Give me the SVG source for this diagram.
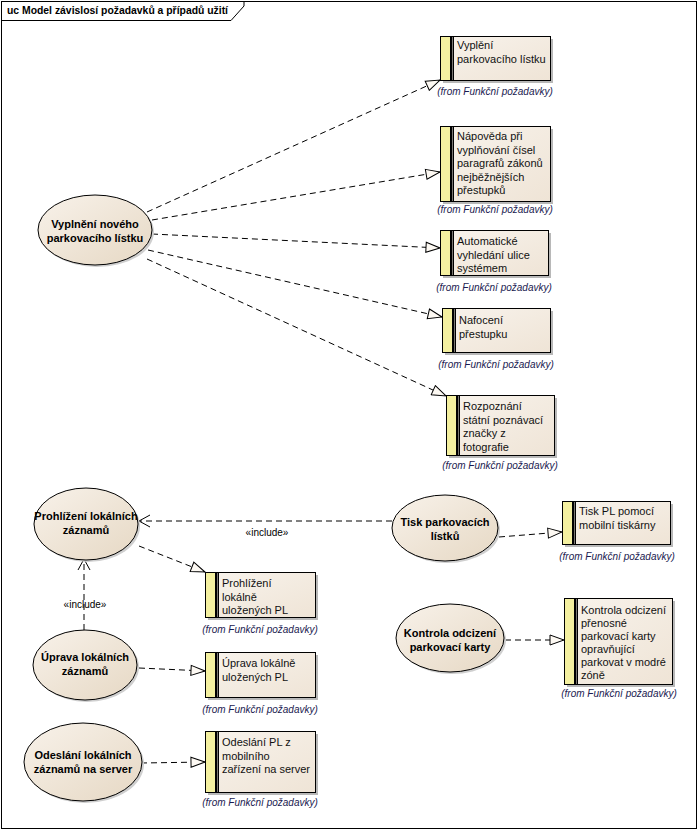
<svg xmlns="http://www.w3.org/2000/svg" width="699" height="831" viewBox="0 0 699 831">
<defs>
<linearGradient id="ug" x1="0" y1="0" x2="1" y2="1">
<stop offset="0" stop-color="#f8f2ea"/>
<stop offset="1" stop-color="#e6d8c4"/>
</linearGradient>
<linearGradient id="rg" x1="0" y1="0" x2="1" y2="1">
<stop offset="0" stop-color="#f8f3ec"/>
<stop offset="1" stop-color="#efe4d6"/>
</linearGradient>
<marker id="tri" markerWidth="16" markerHeight="12" refX="15" refY="6" orient="auto" markerUnits="userSpaceOnUse">
<path d="M1,1 L15,6 L1,11 Z" fill="#fdf9f3" stroke="#000" stroke-width="1"/>
</marker>
<marker id="open" markerWidth="14" markerHeight="14" refX="12" refY="7" orient="auto" markerUnits="userSpaceOnUse">
<path d="M1,1 L12,7 L1,13" fill="none" stroke="#000" stroke-width="1"/>
</marker>
</defs>
<style>
.uc{fill:url(#ug);stroke:#000;stroke-width:1}
.ucs{fill:#cfcfcf}
.rq{fill:url(#rg);stroke:#000;stroke-width:1}
.rs{fill:#b8b8b8}
.st{fill:#f4f0a0;stroke:#000;stroke-width:1}
.ut{font-family:"Liberation Sans",Arial,sans-serif;font-size:11px;font-weight:bold;fill:#000;text-anchor:middle}
.rt{font-family:"Liberation Sans",Arial,sans-serif;font-size:11px;fill:#111}
.ft{font-family:"Liberation Sans",Arial,sans-serif;font-size:10px;font-style:italic;fill:#1a1a50;text-anchor:middle}
.lt{font-family:"Liberation Sans",Arial,sans-serif;font-size:10px;fill:#000;text-anchor:middle}
.c{fill:none;stroke:#000;stroke-width:1;stroke-dasharray:6,4}
.tr{marker-end:url(#tri)}
.op{marker-end:url(#open)}
</style>
<rect x="0" y="0" width="699" height="831" fill="#fff"/>
<g id="frame">
<rect x="1.5" y="1.5" width="695" height="827" fill="none" stroke="#000"/>
<path d="M1.5,20.5 H231 L244,6 V1.5" fill="none" stroke="#000"/>
<text x="7" y="14" font-family="Liberation Sans,Arial,sans-serif" font-size="11" font-weight="bold" textLength="221" lengthAdjust="spacingAndGlyphs">uc Model závislosí požadavků a případů užití</text>
</g>
<g id="connectors">
<line class="c tr" x1="147" y1="212" x2="440" y2="80"/>
<line class="c tr" x1="152" y1="220" x2="440" y2="172"/>
<line class="c tr" x1="152" y1="234" x2="440" y2="248"/>
<line class="c tr" x1="148" y1="250" x2="442" y2="317"/>
<line class="c tr" x1="147" y1="259" x2="446" y2="396"/>
<line class="c tr" x1="499" y1="537" x2="562" y2="532"/>
<line class="c tr" x1="139" y1="546" x2="205" y2="572"/>
<line class="c tr" x1="139" y1="668" x2="205" y2="671"/>
<line class="c tr" x1="141" y1="763" x2="205" y2="762"/>
<line class="c tr" x1="505" y1="640" x2="564" y2="640"/>
<line class="c op" x1="392" y1="521" x2="139" y2="521"/>
<text class="lt" x="267" y="536">«include»</text>
<line class="c op" x1="84" y1="630" x2="84" y2="559"/>
<text class="lt" x="85" y="608">«include»</text>
</g>
<g id="uc-vyplneni">
<ellipse class="ucs" cx="97" cy="232" rx="57" ry="35"/>
<ellipse class="uc" cx="95" cy="230" rx="57" ry="35"/>
<text class="ut" x="95" y="228">Vyplnění nového</text>
<text class="ut" x="95" y="242">parkovacího lístku</text>
</g>
<g id="uc-prohlizeni">
<ellipse class="ucs" cx="88" cy="526" rx="52" ry="36"/>
<ellipse class="uc" cx="86" cy="524" rx="52" ry="36"/>
<text class="ut" x="86" y="520">Prohlížení lokálních</text>
<text class="ut" x="86" y="534">záznamů</text>
</g>
<g id="uc-uprava">
<ellipse class="ucs" cx="87" cy="667" rx="52" ry="35"/>
<ellipse class="uc" cx="85" cy="665" rx="52" ry="35"/>
<text class="ut" x="85" y="661">Úprava lokálních</text>
<text class="ut" x="85" y="675">záznamů</text>
</g>
<g id="uc-odeslani">
<ellipse class="ucs" cx="85" cy="764" rx="59" ry="39"/>
<ellipse class="uc" cx="83" cy="762" rx="59" ry="39"/>
<text class="ut" x="83" y="759">Odeslání lokálních</text>
<text class="ut" x="83" y="773">záznamů na server</text>
</g>
<g id="uc-tisk">
<ellipse class="ucs" cx="447" cy="530" rx="53" ry="33"/>
<ellipse class="uc" cx="445" cy="528" rx="53" ry="33"/>
<text class="ut" x="445" y="526">Tisk parkovacích</text>
<text class="ut" x="445" y="540">lístků</text>
</g>
<g id="uc-kontrola">
<ellipse class="ucs" cx="452" cy="640" rx="54" ry="34"/>
<ellipse class="uc" cx="450" cy="638" rx="54" ry="34"/>
<text class="ut" x="450" y="637">Kontrola odcizení</text>
<text class="ut" x="450" y="651">parkovací karty</text>
</g>
<g id="rq-vyplneni">
<rect class="rs" x="443" y="39" width="110" height="44"/>
<rect class="rq" x="440.5" y="36.5" width="110" height="44"/>
<rect class="st" x="440.5" y="36.5" width="10" height="44"/>
<line x1="451.5" y1="36.5" x2="451.5" y2="80.5" stroke="#000" stroke-width="2"/>
<line x1="453.5" y1="36.5" x2="453.5" y2="80.5" stroke="#000"/>
<text class="rt" x="457" y="49">Vyplění</text>
<text class="rt" x="457" y="63">parkovacího lístku</text>
<text class="ft" x="495" y="95">(from Funkční požadavky)</text>
</g>
<g id="rq-napoveda">
<rect class="rs" x="443" y="129" width="110" height="75"/>
<rect class="rq" x="440.5" y="126.5" width="110" height="75"/>
<rect class="st" x="440.5" y="126.5" width="10" height="75"/>
<line x1="451.5" y1="126.5" x2="451.5" y2="201.5" stroke="#000" stroke-width="2"/>
<line x1="453.5" y1="126.5" x2="453.5" y2="201.5" stroke="#000"/>
<text class="rt" x="457" y="140">Nápověda při</text>
<text class="rt" x="457" y="153.5">vyplňování čísel</text>
<text class="rt" x="457" y="167">paragrafů zákonů</text>
<text class="rt" x="457" y="180.5">nejběžnějších</text>
<text class="rt" x="457" y="194">přestupků</text>
<text class="ft" x="495" y="213">(from Funkční požadavky)</text>
</g>
<g id="rq-automaticke">
<rect class="rs" x="443" y="233" width="108" height="45"/>
<rect class="rq" x="440.5" y="230.5" width="108" height="45"/>
<rect class="st" x="440.5" y="230.5" width="10" height="45"/>
<line x1="451.5" y1="230.5" x2="451.5" y2="275.5" stroke="#000" stroke-width="2"/>
<line x1="453.5" y1="230.5" x2="453.5" y2="275.5" stroke="#000"/>
<text class="rt" x="457" y="245">Automatické</text>
<text class="rt" x="457" y="258.5">vyhledání ulice</text>
<text class="rt" x="457" y="272">systémem</text>
<text class="ft" x="494" y="291">(from Funkční požadavky)</text>
</g>
<g id="rq-nafoceni">
<rect class="rs" x="445" y="311" width="108" height="44"/>
<rect class="rq" x="442.5" y="308.5" width="108" height="44"/>
<rect class="st" x="442.5" y="308.5" width="10" height="44"/>
<line x1="453.5" y1="308.5" x2="453.5" y2="352.5" stroke="#000" stroke-width="2"/>
<line x1="455.5" y1="308.5" x2="455.5" y2="352.5" stroke="#000"/>
<text class="rt" x="459" y="324">Nafocení</text>
<text class="rt" x="459" y="337.5">přestupku</text>
<text class="ft" x="496" y="368">(from Funkční požadavky)</text>
</g>
<g id="rq-rozpoznani">
<rect class="rs" x="449" y="398" width="108" height="60"/>
<rect class="rq" x="446.5" y="395.5" width="108" height="60"/>
<rect class="st" x="446.5" y="395.5" width="10" height="60"/>
<line x1="457.5" y1="395.5" x2="457.5" y2="455.5" stroke="#000" stroke-width="2"/>
<line x1="459.5" y1="395.5" x2="459.5" y2="455.5" stroke="#000"/>
<text class="rt" x="463" y="410">Rozpoznání</text>
<text class="rt" x="463" y="423.5">státní poznávací</text>
<text class="rt" x="463" y="437">značky z</text>
<text class="rt" x="463" y="450.5">fotografie</text>
<text class="ft" x="500" y="469">(from Funkční požadavky)</text>
</g>
<g id="rq-tisk">
<rect class="rs" x="565" y="504" width="108" height="43"/>
<rect class="rq" x="562.5" y="501.5" width="108" height="43"/>
<rect class="st" x="562.5" y="501.5" width="10" height="43"/>
<line x1="573.5" y1="501.5" x2="573.5" y2="544.5" stroke="#000" stroke-width="2"/>
<line x1="575.5" y1="501.5" x2="575.5" y2="544.5" stroke="#000"/>
<text class="rt" x="579" y="515">Tisk PL pomocí</text>
<text class="rt" x="579" y="528.5">mobilní tiskárny</text>
<text class="ft" x="617" y="560">(from Funkční požadavky)</text>
</g>
<g id="rq-prohlizeni">
<rect class="rs" x="208" y="575" width="110" height="45"/>
<rect class="rq" x="205.5" y="572.5" width="110" height="45"/>
<rect class="st" x="205.5" y="572.5" width="10" height="45"/>
<line x1="216.5" y1="572.5" x2="216.5" y2="617.5" stroke="#000" stroke-width="2"/>
<line x1="218.5" y1="572.5" x2="218.5" y2="617.5" stroke="#000"/>
<text class="rt" x="222" y="587">Prohlížení</text>
<text class="rt" x="222" y="600.5">lokálně</text>
<text class="rt" x="222" y="614">uložených PL</text>
<text class="ft" x="260" y="633">(from Funkční požadavky)</text>
</g>
<g id="rq-kontrola">
<rect class="rs" x="567" y="601" width="108" height="86"/>
<rect class="rq" x="564.5" y="598.5" width="108" height="86"/>
<rect class="st" x="564.5" y="598.5" width="10" height="86"/>
<line x1="575.5" y1="598.5" x2="575.5" y2="684.5" stroke="#000" stroke-width="2"/>
<line x1="577.5" y1="598.5" x2="577.5" y2="684.5" stroke="#000"/>
<text class="rt" x="581" y="614">Kontrola odcizení</text>
<text class="rt" x="581" y="627">přenosné</text>
<text class="rt" x="581" y="640">parkovací karty</text>
<text class="rt" x="581" y="653">opravňující</text>
<text class="rt" x="581" y="666">parkovat v modré</text>
<text class="rt" x="581" y="679">zóně</text>
<text class="ft" x="619" y="697">(from Funkční požadavky)</text>
</g>
<g id="rq-uprava">
<rect class="rs" x="208" y="655" width="110" height="45"/>
<rect class="rq" x="205.5" y="652.5" width="110" height="45"/>
<rect class="st" x="205.5" y="652.5" width="10" height="45"/>
<line x1="216.5" y1="652.5" x2="216.5" y2="697.5" stroke="#000" stroke-width="2"/>
<line x1="218.5" y1="652.5" x2="218.5" y2="697.5" stroke="#000"/>
<text class="rt" x="222" y="667">Úprava lokálně</text>
<text class="rt" x="222" y="680.5">uložených PL</text>
<text class="ft" x="260" y="713">(from Funkční požadavky)</text>
</g>
<g id="rq-odeslani">
<rect class="rs" x="208" y="734" width="110" height="61"/>
<rect class="rq" x="205.5" y="731.5" width="110" height="61"/>
<rect class="st" x="205.5" y="731.5" width="10" height="61"/>
<line x1="216.5" y1="731.5" x2="216.5" y2="792.5" stroke="#000" stroke-width="2"/>
<line x1="218.5" y1="731.5" x2="218.5" y2="792.5" stroke="#000"/>
<text class="rt" x="222" y="746">Odeslání PL z</text>
<text class="rt" x="222" y="759.5">mobilního</text>
<text class="rt" x="222" y="773">zařízení na server</text>
<text class="ft" x="260" y="806">(from Funkční požadavky)</text>
</g>
</svg>
